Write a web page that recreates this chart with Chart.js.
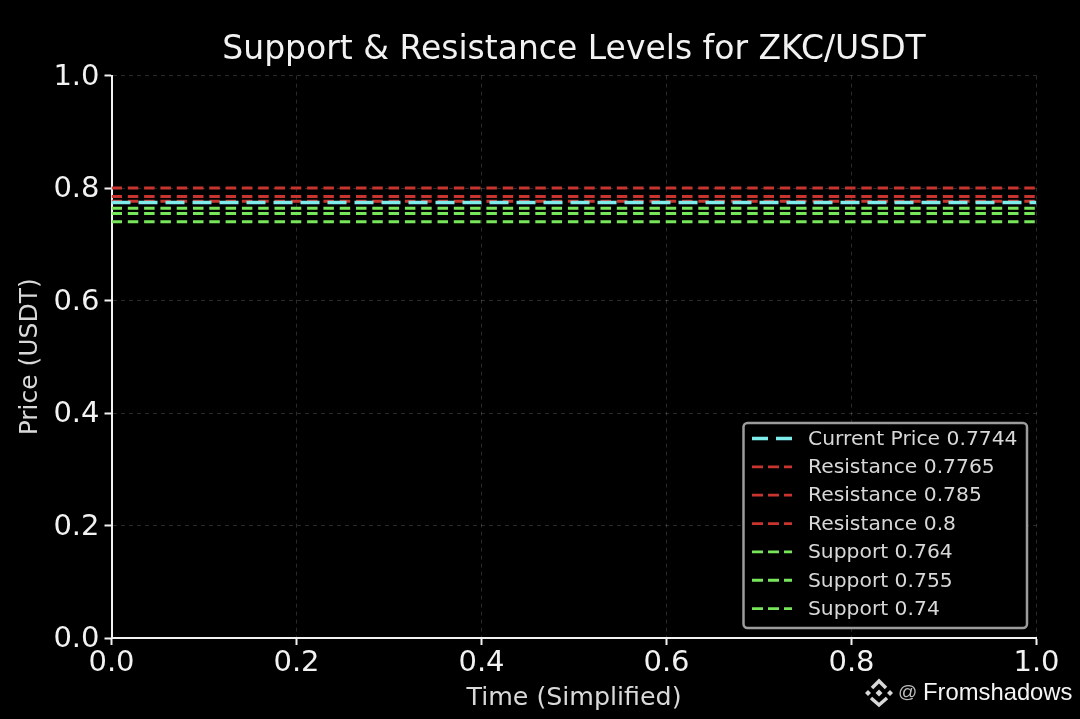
<!DOCTYPE html>
<html>
<head>
<meta charset="utf-8">
<style>
  html, body { margin: 0; padding: 0; background: #000; }
  canvas { display: block; }
</style>
<script src="https://cdn.jsdelivr.net/npm/chart.js@4/dist/chart.umd.min.js"></script>
</head>
<body>
<canvas id="chart1" width="1080" height="719" style="width:1080px;height:719px"></canvas>
<script>
const levelLabels = ['Current Price 0.7744', 'Resistance 0.7765', 'Resistance 0.785', 'Resistance 0.8', 'Support 0.764', 'Support 0.755', 'Support 0.74']
const levelValues = [0.7744, 0.7765, 0.785, 0.8, 0.764, 0.755, 0.74]
const levelColors = ['#7fecec', '#c8352f', '#c8352f', '#c8352f', '#78e65a', '#78e65a', '#78e65a']
const timeRange = [0, 1]

const font = 'DejaVu Sans'
const white = '#f2f2f2'

const datasets = levelLabels.map((label, i) => ({
    label,
    data: timeRange.map(x => ({ x, y: levelValues[i] })),
    borderColor: levelColors[i],
    borderWidth: i === 0 ? 3.5 : 3,
    borderDash: i === 0 ? [19, 8] : [10.5, 5.8],
    pointRadius: 0,
    fill: false
}))

// nudge the y tick labels down a little, they sit lower in the original
const tickNudge = {
    id: 'tickNudge',
    beforeDraw(chart) {
        chart.scales.y.getLabelItems(chart.chartArea).forEach(item => {
            if (!item.nudged) {
                item.options.translation[1] += 1.5
                item.nudged = true
            }
        })
    }
}

// legend box inside the plot, same look as the original
const legendBox = {
    id: 'legendBox',
    afterDraw(chart) {
        const ctx = chart.ctx
        ctx.save()
        ctx.fillStyle = '#000'
        ctx.strokeStyle = '#9c9c9c'
        ctx.lineWidth = 2.5
        ctx.beginPath()
        ctx.roundRect(743.5, 423, 283.5, 205, 4)
        ctx.fill()
        ctx.stroke()
        ctx.font = '20.3px "' + font + '"'
        ctx.textBaseline = 'middle'
        chart.data.datasets.forEach((ds, i) => {
            const y = 438.5 + i * 28.35
            ctx.strokeStyle = ds.borderColor
            ctx.lineWidth = i === 0 ? 3.5 : 2.8
            ctx.setLineDash(i === 0 ? [16, 8] : [11, 5])
            ctx.beginPath()
            ctx.moveTo(752, y)
            ctx.lineTo(792, y)
            ctx.stroke()
            ctx.setLineDash([])
            ctx.fillStyle = '#d8d8d8'
            ctx.fillText(ds.label, 808, y + 1)
        })
        ctx.restore()
    }
}

// site watermark, bottom right
const watermark = {
    id: 'watermark',
    afterDraw(chart) {
        const ctx = chart.ctx
        ctx.save()
        ctx.fillStyle = '#d8d8d8'
        const squares = [[879, 693, 3.5], [868, 693, 3], [890, 693, 3]]
        squares.forEach(([x, y, r]) => {
            ctx.beginPath()
            ctx.moveTo(x, y - r)
            ctx.lineTo(x + r, y)
            ctx.lineTo(x, y + r)
            ctx.lineTo(x - r, y)
            ctx.closePath()
            ctx.fill()
        })
        ctx.strokeStyle = '#d8d8d8'
        ctx.lineWidth = 3.5
        ctx.beginPath()
        ctx.moveTo(872, 688)
        ctx.lineTo(879, 681)
        ctx.lineTo(886, 688)
        ctx.moveTo(871, 698)
        ctx.lineTo(879, 705)
        ctx.lineTo(887, 698)
        ctx.stroke()
        ctx.textBaseline = 'middle'
        ctx.font = '19px "Liberation Sans"'
        ctx.fillStyle = '#bdbdbd'
        ctx.fillText('@', 898, 693)
        ctx.font = '23.8px "Liberation Sans"'
        ctx.fillStyle = '#f5f5f5'
        ctx.fillText('Fromshadows', 923, 693)
        ctx.restore()
    }
}

const gridOptions = {
    color: 'rgba(255,255,255,0.16)',
    lineWidth: 1,
    tickLength: 7,
    tickColor: white,
    tickWidth: 2
}

new Chart('chart1', {
    type: 'line',
    data: { datasets },
    plugins: [tickNudge, legendBox, watermark],
    options: {
        responsive: false,
        animation: false,
        devicePixelRatio: 1,
        layout: { padding: { top: 0, right: 43.5, bottom: 0, left: 0 } },
        plugins: {
            legend: { display: false },
            tooltip: { enabled: false },
            title: {
                display: true,
                fullSize: false,
                text: 'Support & Resistance Levels for ZKC/USDT',
                color: white,
                font: { family: font, size: 33, weight: 'normal' },
                padding: { top: 31, bottom: 5 }
            }
        },
        scales: {
            x: {
                type: 'linear',
                min: 0,
                max: 1,
                afterFit(scale) { scale.height = 81 },
                title: {
                    display: true,
                    text: 'Time (Simplified)',
                    color: '#d9d9d9',
                    font: { family: font, size: 25.3 },
                    padding: { top: 0, bottom: 5 }
                },
                ticks: {
                    stepSize: 0.2,
                    maxRotation: 0,
                    color: white,
                    padding: 1,
                    font: { family: font, size: 29 },
                    callback: v => v.toFixed(1)
                },
                grid: { ...gridOptions },
                border: { color: white, width: 2, dash: [4, 4] }
            },
            y: {
                min: 0,
                max: 1,
                afterFit(scale) { scale.width = 111.5 },
                title: {
                    display: true,
                    text: 'Price (USDT)',
                    color: '#d9d9d9',
                    font: { family: font, size: 25 },
                    padding: { top: 15, bottom: 0 }
                },
                ticks: {
                    stepSize: 0.2,
                    color: white,
                    padding: 5,
                    font: { family: font, size: 29 },
                    callback: v => v.toFixed(1)
                },
                grid: { ...gridOptions },
                border: { color: white, width: 2, dash: [4, 4] }
            }
        }
    }
})
</script>
</body>
</html>
